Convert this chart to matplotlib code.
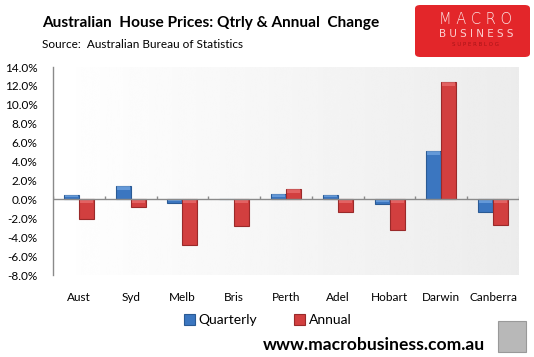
import matplotlib
matplotlib.use("Agg")
import matplotlib.pyplot as plt
from matplotlib.patches import Rectangle, FancyBboxPatch
import numpy as np

plt.rcParams['font.family'] = ['Lato', 'DejaVu Sans']

# data (% change)
ciudades = ['Aust', 'Syd', 'Melb', 'Bris', 'Perth', 'Adel', 'Hobart', 'Darwin', 'Canberra']
trimestral = [0.5, 1.4, -0.4, 0.0, 0.6, 0.5, -0.5, 5.1, -1.3]
anual = [-2.1, -0.8, -4.8, -2.8, 1.1, -1.3, -3.2, 12.4, -2.7]
marcas_y = [-8, -6, -4, -2, 0, 2, 4, 6, 8, 10, 12, 14]

azul = '#3b76c0'
azul_borde = '#2a5a94'
rojo = '#d23f3f'
rojo_borde = '#9a2a2a'

fig = plt.figure(figsize=(5.34, 3.57), dpi=100)
fig.patch.set_facecolor('white')
ax = fig.add_axes([53 / 534, 1 - 275 / 357, (519 - 53) / 534, (275 - 67) / 357])

# fondo degradado blanco -> gris
grad = np.linspace(1.0, 0.925, 256).reshape(1, -1)
ax.imshow(grad, extent=[0, 1, 0, 1], transform=ax.transAxes, aspect='auto',
          cmap='gray', vmin=0, vmax=1, zorder=0, interpolation='bicubic')

x = np.arange(len(ciudades))
ancho = 0.29
b1 = ax.bar(x - ancho / 2, trimestral, ancho, color=azul, edgecolor=azul_borde,
            linewidth=0.8, zorder=3, label='Quarterly')
b2 = ax.bar(x + ancho / 2, anual, ancho, color=rojo, edgecolor=rojo_borde,
            linewidth=0.8, zorder=3, label='Annual')

# brillo en la parte superior de cada barra
for barras, claro in ((b1, '#86b6ee'), (b2, '#f28080')):
    for b in barras:
        h = b.get_height()
        if h == 0:
            continue
        alto = min(abs(h) * 0.5, 0.4)
        arriba = max(h, 0)
        ax.add_patch(Rectangle((b.get_x() + 0.02, arriba - alto), b.get_width() - 0.04, alto,
                               facecolor=claro, edgecolor='none', alpha=0.55, zorder=4))

ax.set_xlim(-0.5, len(ciudades) - 0.5)
ax.set_ylim(-8, 14)
ax.axhline(0, color='#8a8a8a', linewidth=1.0, zorder=5)
ax.vlines(np.arange(len(ciudades) + 1) - 0.5, 0, 0.4, color='#8a8a8a', linewidth=1.0, zorder=5)

ax.set_yticks(marcas_y)
ax.set_yticklabels([f'{v:.1f}%' for v in marcas_y], fontsize=8.5)
ax.set_xticks(x)
ax.set_xticklabels(ciudades, fontsize=8.5)
ax.tick_params(axis='both', length=0)
ax.tick_params(axis='y', pad=11)
ax.tick_params(axis='x', pad=12)
for lado in ['top', 'right', 'bottom']:
    ax.spines[lado].set_visible(False)
ax.spines['left'].set_color('#8a8a8a')
ax.spines['left'].set_linewidth(1.0)

# titulos
fig.text(42 / 534, 1 - 23 / 357, 'Australian  House Prices: Qtrly & Annual  Change',
         fontsize=11.1, fontweight='bold', va='center', ha='left')
fig.text(42 / 534, 1 - 45 / 357, 'Source:  Australian Bureau of Statistics',
         fontsize=8.5, va='center', ha='left')

# logo
logo = FancyBboxPatch((415 / 534, 1 - 57 / 357), 115 / 534, 52 / 357,
                      boxstyle='round,pad=0,rounding_size=0.01', transform=fig.transFigure,
                      facecolor='#e3262a', edgecolor='none')
fig.patches.append(logo)
fig.text(476 / 534, 1 - 19 / 357, 'M A C R O', color='#fbe3e3', fontsize=10.5,
         ha='center', va='center', family='DejaVu Sans', fontweight='light')
fig.text(476 / 534, 1 - 34 / 357, 'B U S I N E S S', color='#fbd0d0', fontsize=7.5,
         ha='center', va='center', family='DejaVu Sans')
fig.text(476 / 534, 1 - 45 / 357, 'S U P E R B L O G', color='#a81418', fontsize=4,
         ha='center', va='center', family='DejaVu Sans')

# leyenda
fig.legend(handles=[b1, b2], labels=['Quarterly', 'Annual'], loc='center left',
           bbox_to_anchor=(178 / 534, 1 - 320 / 357), ncol=2, frameon=False,
           fontsize=10, handlelength=0.8, handleheight=0.8, handletextpad=0.3,
           columnspacing=2.6, borderaxespad=0)

fig.text(374 / 534, 1 - 345 / 357, 'www.macrobusiness.com.au', fontsize=12.6,
         fontweight='bold', ha='center', va='center')

# recuadro del lobo
fig.patches.append(Rectangle((498 / 534, 1 - 352 / 357), 28 / 534, 31 / 357,
                             transform=fig.transFigure, facecolor='#b8b8b8',
                             edgecolor='#999999', linewidth=0.8))

fig.savefig('out.png', dpi=100)
